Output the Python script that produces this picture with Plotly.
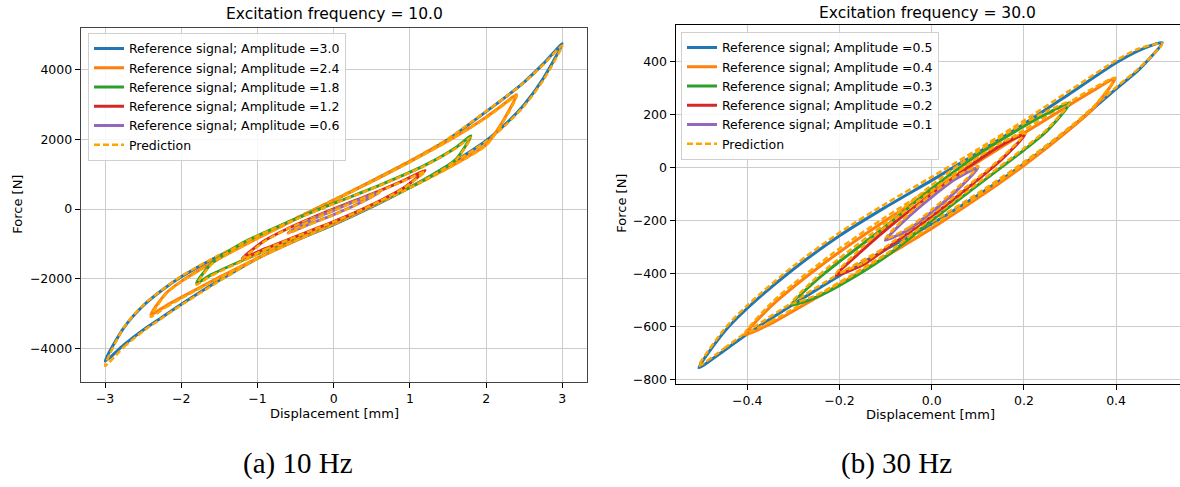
import plotly.graph_objects as go

# ---------------- 10 Hz data (closed loops: rising branch then falling branch) ----------------
amps_10 = [3.0, 2.4, 1.8, 1.2, 0.6]

x10_a30 = [-3.0, -2.75, -2.5, -2.25, -2.0, -1.5, -1.0, -0.5, 0.0, 0.5, 1.0, 1.5, 2.0, 2.25, 2.5, 2.75, 3.0,
           2.75, 2.5, 2.25, 2.0, 1.5, 1.0, 0.5, 0.0, -0.5, -1.0, -1.5, -2.0, -2.25, -2.5, -2.75, -3.0]
f10_a30_ref = [-4370, -3900, -3480, -3110, -2740, -2050, -1420, -910, -450, 60, 620, 1250, 1960, 2430, 3000, 3750, 4750,
               4170, 3650, 3210, 2800, 2000, 1370, 800, 250, -280, -810, -1340, -1950, -2330, -2780, -3400, -4370]
f10_a30_pred = [-4510, -3960, -3510, -3130, -2760, -2070, -1430, -910, -440, 70, 630, 1240, 1940, 2400, 2960, 3700, 4700,
                4150, 3640, 3210, 2810, 2020, 1390, 820, 270, -260, -790, -1320, -1930, -2320, -2760, -3390, -4510]

x10_a24 = [-2.4, -2.2, -2.0, -1.5, -1.0, -0.5, 0.0, 0.5, 1.0, 1.5, 2.0, 2.2, 2.4,
           2.2, 2.0, 1.5, 1.0, 0.5, 0.0, -0.5, -1.0, -1.5, -2.0, -2.2, -2.4]
f10_a24_ref = [-3040, -2780, -2540, -1960, -1410, -900, -420, 90, 620, 1180, 1850, 2450, 3290,
               2960, 2640, 1960, 1360, 790, 250, -290, -840, -1420, -2080, -2420, -3040]
f10_a24_pred = [-3100, -2820, -2570, -1980, -1420, -910, -430, 80, 610, 1170, 1830, 2420, 3250,
                2940, 2620, 1950, 1350, 780, 240, -300, -850, -1430, -2090, -2440, -3100]

x10_a18 = [-1.8, -1.6, -1.2, -0.6, 0.0, 0.6, 1.2, 1.6, 1.8,
           1.6, 1.2, 0.6, 0.0, -0.6, -1.2, -1.6, -1.8]
f10_a18_ref = [-2130, -1880, -1480, -920, -380, 200, 850, 1420, 2100,
               1760, 1260, 680, 160, -380, -980, -1560, -2130]
f10_a18_pred = [-2180, -1910, -1500, -930, -390, 190, 840, 1400, 2060,
                1740, 1250, 670, 150, -390, -990, -1580, -2180]

x10_a12 = [-1.2, -0.9, -0.6, -0.3, 0.0, 0.3, 0.6, 0.9, 1.2,
           0.9, 0.6, 0.3, 0.0, -0.3, -0.6, -0.9, -1.2]
f10_a12_ref = [-1420, -1140, -880, -620, -360, -80, 230, 580, 1105,
               800, 520, 260, 0, -270, -560, -900, -1420]
f10_a12_pred = [-1450, -1160, -890, -630, -370, -90, 220, 570, 1080,
                790, 510, 250, -10, -280, -570, -920, -1450]

x10_a06 = [-0.6, -0.3, 0.0, 0.3, 0.6, 0.3, 0.0, -0.3, -0.6]
f10_a06_ref = [-680, -420, -160, 130, 480, 240, -40, -320, -680]
f10_a06_pred = [-700, -430, -170, 120, 470, 230, -50, -330, -700]

# ---------------- 30 Hz data ----------------
amps_30 = [0.5, 0.4, 0.3, 0.2, 0.1]

x30_a5 = [-0.505, -0.45, -0.4, -0.3, -0.2, -0.1, 0.0, 0.1, 0.2, 0.3, 0.4, 0.45, 0.5,
          0.45, 0.4, 0.3, 0.2, 0.1, 0.0, -0.1, -0.2, -0.3, -0.4, -0.45, -0.505]
f30_a5_ref = [-755, -690, -628, -516, -408, -310, -213, -105, 13, 146, 296, 369, 470,
              441, 394, 278, 163, 55, -49, -150, -258, -384, -531, -620, -755]
f30_a5_pred = [-748, -682, -619, -507, -400, -302, -206, -98, 20, 152, 302, 374, 466,
               448, 403, 290, 176, 68, -36, -137, -246, -372, -520, -610, -748]

x30_a4 = [-0.405, -0.35, -0.3, -0.2, -0.1, 0.0, 0.1, 0.2, 0.3, 0.35, 0.398,
          0.35, 0.3, 0.2, 0.1, 0.0, -0.1, -0.2, -0.3, -0.35, -0.405]
f30_a4_ref = [-631, -590, -541, -441, -336, -230, -116, 7, 144, 221, 335,
              289, 236, 129, 20, -90, -200, -319, -451, -526, -631]
f30_a4_pred = [-625, -582, -533, -433, -328, -222, -108, 14, 150, 226, 338,
               298, 247, 141, 33, -77, -187, -306, -439, -515, -625]

x30_a3 = [-0.304, -0.25, -0.2, -0.1, 0.0, 0.1, 0.2, 0.25, 0.3,
          0.25, 0.2, 0.1, 0.0, -0.1, -0.2, -0.25, -0.304]
f30_a3_ref = [-518, -489, -445, -337, -200, -67, 65, 137, 243,
              203, 155, 47, -80, -223, -355, -425, -518]
f30_a3_pred = [-512, -482, -437, -329, -192, -60, 72, 143, 247,
               212, 166, 60, -67, -210, -343, -415, -512]

x30_a2 = [-0.207, -0.15, -0.1, 0.0, 0.1, 0.15, 0.203, 0.15, 0.1, 0.0, -0.1, -0.15, -0.207]
f30_a2_ref = [-406, -368, -308, -184, -46, 27, 125, 83, 26, -100, -236, -312, -406]
f30_a2_pred = [-400, -361, -300, -176, -39, 34, 129, 92, 37, -88, -223, -300, -400]

x30_a1 = [-0.101, -0.05, 0.0, 0.05, 0.101, 0.05, 0.0, -0.05, -0.101]
f30_a1_ref = [-275, -234, -168, -94, 0, -46, -112, -186, -275]
f30_a1_pred = [-270, -227, -160, -86, 5, -37, -101, -176, -270]

ref_colors = ["#1f77b4", "#ff7f0e", "#2ca02c", "#d62728", "#9467bd"]
pred_color = "#ffa500"

loops_10 = [(x10_a30, f10_a30_ref, f10_a30_pred), (x10_a24, f10_a24_ref, f10_a24_pred),
            (x10_a18, f10_a18_ref, f10_a18_pred), (x10_a12, f10_a12_ref, f10_a12_pred),
            (x10_a06, f10_a06_ref, f10_a06_pred)]
loops_30 = [(x30_a5, f30_a5_ref, f30_a5_pred), (x30_a4, f30_a4_ref, f30_a4_pred),
            (x30_a3, f30_a3_ref, f30_a3_pred), (x30_a2, f30_a2_ref, f30_a2_pred),
            (x30_a1, f30_a1_ref, f30_a1_pred)]

fig = go.Figure()


def add_loops(loops, amps, xa, ya, legend_name):
    for i, ((xs, fr, fp), a) in enumerate(zip(loops, amps)):
        fig.add_trace(go.Scatter(
            x=xs, y=fr, mode="lines", xaxis=xa, yaxis=ya, legend=legend_name,
            name=f"Reference signal; Amplitude ={a}", legendrank=i + 1,
            line=dict(color=ref_colors[i], width=3, shape="spline", smoothing=0.7)))
        fig.add_trace(go.Scatter(
            x=xs, y=fp, mode="lines", xaxis=xa, yaxis=ya, legend=legend_name,
            name="Prediction", legendrank=10, showlegend=(i == 0),
            line=dict(color=pred_color, width=2.5, dash="6px,3px", shape="spline", smoothing=0.7)))


add_loops(loops_10, amps_10, "x", "y", "legend")
add_loops(loops_30, amps_30, "x2", "y2", "legend2")

W, H = 1180, 487
tick_font = dict(family="DejaVu Sans", size=12.5, color="#000")
grid_c = "#cccccc"


def axis(domain, rng, dtick, anchor, fmt, linecolor, mirror):
    return dict(domain=domain, range=rng, dtick=dtick, tick0=0, anchor=anchor,
                showgrid=True, gridcolor=grid_c, gridwidth=1, zeroline=False,
                showline=True, linecolor=linecolor, linewidth=1, mirror=mirror,
                ticks="outside", ticklen=5, tickcolor="#000", tickwidth=1,
                tickfont=tick_font, tickformat=fmt)


leg_common = dict(xanchor="left", yanchor="top",
                  bgcolor="rgba(255,255,255,0.85)", bordercolor="#d0d0d0", borderwidth=1,
                  font=dict(family="DejaVu Sans", size=12.5, color="#000"),
                  itemwidth=30, traceorder="normal", tracegroupgap=0)

fig.update_layout(
    width=W, height=H, margin=dict(l=0, r=0, t=0, b=0),
    paper_bgcolor="white", plot_bgcolor="white", showlegend=True,
    xaxis=axis([80.7 / W, 586.7 / W], [-3.32, 3.32], 1, "y", "d", "#444", True),
    yaxis=axis([(H - 384.4) / H, (H - 27.8) / H], [-4973, 5213], 2000, "x", "d", "#444", True),
    xaxis2=axis([675.5 / W, 1.0], [-0.5557, 0.5386], 0.2, "y2", ".1f", "#000", True),
    yaxis2=axis([(H - 386) / H, (H - 25) / H], [-815, 537], 200, "x2", "d", "#000", False),
    legend=dict(x=88 / W, y=(H - 33) / H, **leg_common),
    legend2=dict(x=681 / W, y=(H - 32) / H, **leg_common),
)


def ann(text, xpx, ypx, size, family="DejaVu Sans", angle=0):
    fig.add_annotation(text=text, x=xpx / W, y=(H - ypx) / H, xref="paper", yref="paper",
                       xanchor="center", yanchor="middle", showarrow=False, textangle=angle,
                       font=dict(family=family, size=size, color="#000"))


ann("Excitation frequency = 10.0", 334, 14, 15.5)
ann("Excitation frequency = 30.0", 927, 13, 15.5)
ann("Displacement [mm]", 334, 416, 13)
ann("Displacement [mm]", 930, 417, 13)
ann("Force [N]", 18, 206, 13, angle=-90)
ann("Force [N]", 622, 205, 13, angle=-90)
ann("(a) 10 Hz", 298, 466, 29, family="Liberation Serif")
ann("(b) 30 Hz", 896, 466, 29, family="Liberation Serif")

fig.write_html("out.html")
